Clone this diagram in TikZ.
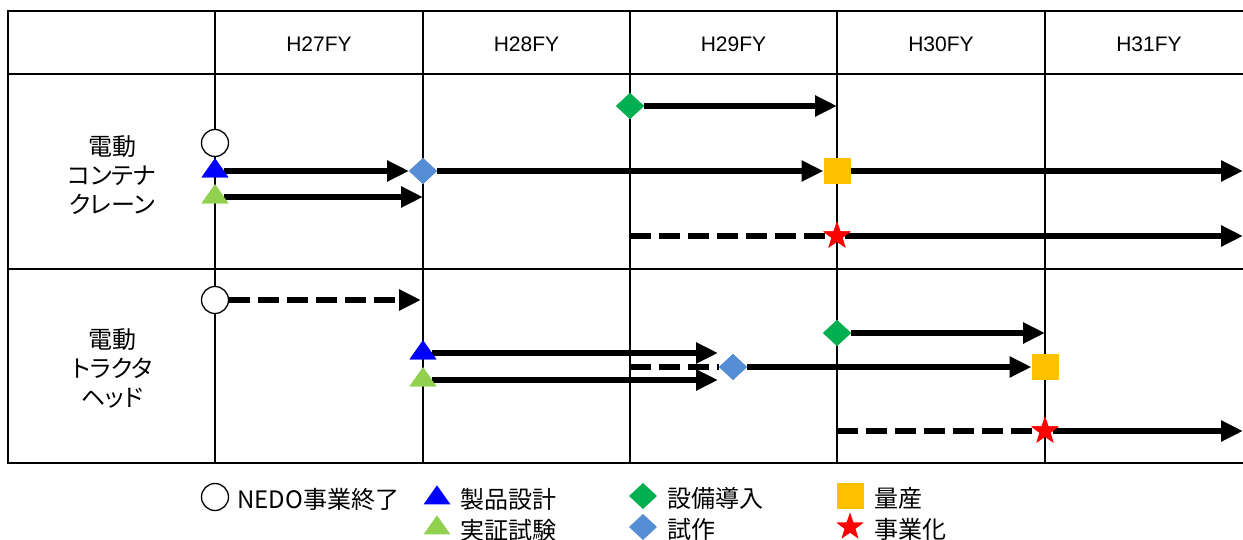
\documentclass[tikz,border=0pt]{standalone}
\usepackage{fontspec}
\setmainfont{Liberation Sans}
\newfontfamily\jp{Noto Sans CJK JP}
\newfontfamily\jpp[RawFeature=+palt]{Noto Sans CJK JP}
\usetikzlibrary{shapes.geometric,arrows.meta}
\definecolor{triblue}{RGB}{0,0,255}
\definecolor{trigreen}{RGB}{146,208,80}
\definecolor{diagreen}{RGB}{0,176,80}
\definecolor{diablue}{RGB}{85,142,213}
\definecolor{sqorange}{RGB}{255,192,0}
\definecolor{starred}{RGB}{255,0,0}
\begin{document}
\begin{tikzpicture}[x=1pt,y=-1pt,
  gridline/.style={line width=1.3pt,black},
  flow/.style={line width=6pt,-{Triangle[length=22pt,width=20pt]}},
  plan/.style={line width=6pt,dash pattern=on 21pt off 8pt},
  planarrow/.style={plan,-{Triangle[length=22pt,width=20pt]}},
  tri/.style={regular polygon,regular polygon sides=3,minimum size=31pt,inner sep=0pt,outer sep=0pt,yscale=0.82,fill=#1},
  dia/.style={diamond,minimum width=28pt,minimum height=26pt,inner sep=0pt,outer sep=0pt,fill=#1},
  sq/.style={rectangle,minimum width=27pt,minimum height=26pt,inner sep=0pt,outer sep=0pt,fill=sqorange},
  strmark/.style={star,star points=5,star point ratio=2.5,minimum size=29pt,inner sep=0pt,outer sep=0pt,fill=starred},
  endmark/.style={circle,minimum size=27pt,inner sep=0pt,outer sep=0pt,draw=black,line width=1.3pt,fill=white},
  hdr/.style={font=\fontsize{21}{25}\selectfont,inner sep=0pt},
  rowlab/.style={font=\jpp\fontsize{24}{29}\selectfont,align=center,inner sep=0pt},
  legtext/.style={font=\jp\fontsize{24}{28}\selectfont,anchor=west,inner sep=0pt}
]
\useasboundingbox (0,0) rectangle (1243,540);
\fill[white] (0,0) rectangle (1243,540);

% grid
\draw[gridline] (1255,11) -- (8,11) -- (8,463) -- (1255,463);
\draw[gridline] (8,74) -- (1255,74);
\draw[gridline] (8,269) -- (1255,269);
\foreach \xx in {215,423,630,837,1045}
  \draw[gridline] (\xx,11) -- (\xx,463);

% headers
\node[hdr] (h27) at (319,44.5) {H27FY};
\node[hdr] (h28) at (526.5,44.5) {H28FY};
\node[hdr] (h29) at (733.5,44.5) {H29FY};
\node[hdr] (h30) at (941,44.5) {H30FY};
\node[hdr] (h31) at (1149,44.5) {H31FY};

% row labels
\node[rowlab] (lab1) at (112,175) {電動\\コンテナ\\クレーン};
\node[rowlab] (lab2) at (112,368) {電動\\トラクタ\\ヘッド};

% ---- row 1 markers
\node[endmark] (c1) at (215,143) {};
\node[tri=triblue] (b1) at (215,171) {};
\node[tri=trigreen] (g1) at (215,197) {};
\node[dia=diablue] (d1) at (423,171) {};
\node[dia=diagreen] (e1) at (630,106) {};
\node[sq] (s1) at (837,171) {};
\node[strmark] (r1) at (837,236) {};
\coordinate (g1end) at (423,197);
\coordinate (e1end) at (837,106);
\coordinate (s1end) at (1243,171);
\coordinate (r1start) at (630,236);
\coordinate (r1end) at (1243,236);

% ---- row 2 markers
\node[endmark] (c2) at (215,300) {};
\node[tri=triblue] (b2) at (423,353) {};
\node[tri=trigreen] (g2) at (423,380) {};
\node[dia=diablue] (d2) at (733,367) {};
\node[dia=diagreen] (e2) at (837,333) {};
\node[sq] (s2) at (1045,367) {};
\node[strmark] (r2) at (1045,431) {};
\coordinate (c2end) at (421,300);
\coordinate (b2end) at (718,353);
\coordinate (g2end) at (718,380);
\coordinate (d2start) at (630,367);
\coordinate (e2end) at (1045,333);
\coordinate (r2start) at (837,431);
\coordinate (r2end) at (1243,431);

% ---- connectors row 1
\draw[flow] (b1.east) -- (d1.west);
\draw[flow] (g1.east) -- (g1end);
\draw[flow] (d1.east) -- (s1.west);
\draw[flow] (e1.east) -- (e1end);
\draw[flow] (s1.east) -- (s1end);
\draw[plan] (r1start) -- (r1.west);
\draw[flow] (r1.east) -- (r1end);

% ---- connectors row 2
\draw[planarrow] (c2.east) -- (c2end);
\draw[plan] (d2start) -- (d2.west);
\draw[flow] (b2.east) -- (b2end);
\draw[flow] (g2.east) -- (g2end);
\draw[flow] (d2.east) -- (s2.west);
\draw[flow] (e2.east) -- (e2end);
\draw[plan] (r2start) -- (r2.west);
\draw[flow] (r2.east) -- (r2end);

% redraw markers on top
\node[tri=triblue] at (b1) {};
\node[tri=trigreen] at (g1) {};
\node[dia=diablue] at (d1) {};
\node[dia=diagreen] at (e1) {};
\node[sq] at (s1) {};
\node[strmark] at (r1) {};
\node[tri=triblue] at (b2) {};
\node[tri=trigreen] at (g2) {};
\node[dia=diablue] at (d2) {};
\node[dia=diagreen] at (e2) {};
\node[sq] at (s2) {};
\node[strmark] at (r2) {};

% ---- legend
\node[endmark] (lc) at (215,497) {};
\node[legtext] (lct) at (237,499) {NEDO事業終了};
\node[tri=triblue] (lb) at (437,498) {};
\node[legtext] (lbt) at (460,499) {製品設計};
\node[tri=trigreen] (lg) at (437,528) {};
\node[legtext] (lgt) at (460,530) {実証試験};
\node[dia=diagreen] (le) at (643,496) {};
\node[legtext] (let) at (667,498) {設備導入};
\node[dia=diablue] (ld) at (643,527) {};
\node[legtext] (ldt) at (667,529) {試作};
\node[sq] (ls) at (850,496) {};
\node[legtext] (lst) at (874,498) {量産};
\node[strmark] (lr) at (850,527) {};
\node[legtext] (lrt) at (874,529) {事業化};
\end{tikzpicture}
\end{document}
